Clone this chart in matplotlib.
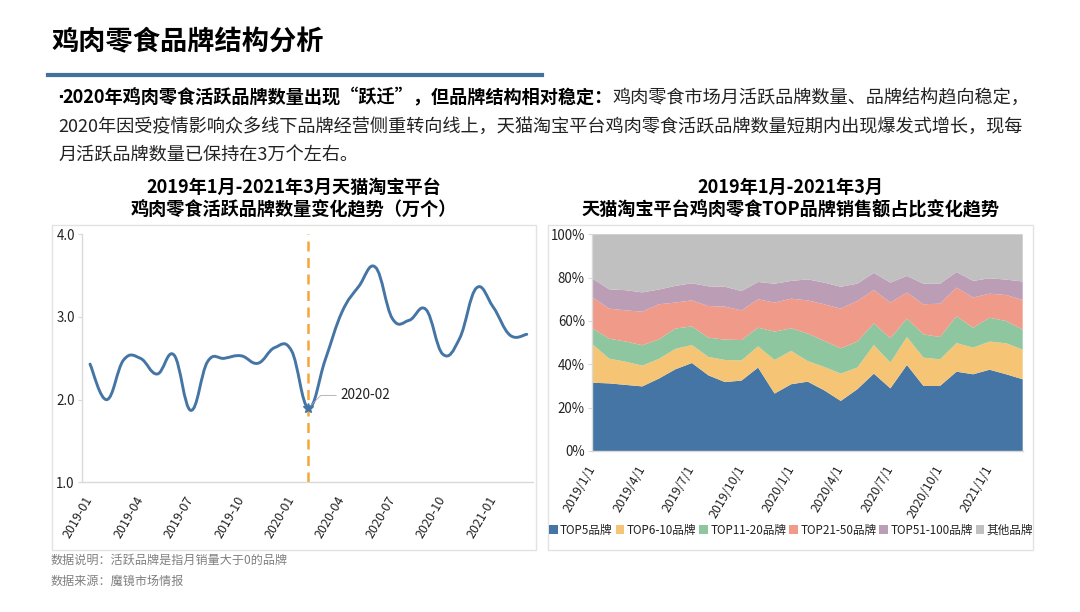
import numpy as np
import matplotlib
matplotlib.use("Agg")
import matplotlib.pyplot as plt
from matplotlib.path import Path
from matplotlib.patches import PathPatch, Rectangle, Patch
from matplotlib.lines import Line2D

plt.rcParams["font.family"] = ["Noto Sans CJK SC", "DejaVu Sans"]

# ---- DATA ----
# 月活跃品牌数量（万个），2019-01 ~ 2021-03
active_brands = [2.43, 2.00, 2.48, 2.50, 2.31, 2.54, 1.87, 2.46, 2.50, 2.53,
                 2.44, 2.63, 2.59, 1.90, 2.48, 3.06, 3.37, 3.60, 2.98, 2.96,
                 3.09, 2.55, 2.74, 3.35, 3.12, 2.78, 2.79]
left_ticks = ["2019-01", "2019-04", "2019-07", "2019-10", "2020-01",
              "2020-04", "2020-07", "2020-10", "2021-01"]
mark_label = "2020-02"
mark_idx = 13

# TOP 品牌销售额占比（%）
share_top5 = [31.5, 31.2, 30.5, 29.8, 33.4, 37.7, 40.6, 34.9, 31.8, 32.5, 38.5, 26.5, 30.8, 32.0,
              28.0, 23.1, 28.5, 35.7, 28.9, 39.7, 30.0, 30.0, 36.6, 35.4, 37.5, 35.4, 33.1]
share_top6_10 = [17.7, 11.4, 10.7, 9.6, 9.1, 9.4, 8.3, 8.5, 10.2, 9.3, 9.8, 15.5, 15.4, 9.5,
                 10.8, 12.6, 10.0, 13.2, 11.9, 12.9, 13.1, 12.3, 13.2, 12.3, 13.0, 14.3, 13.7]
share_top11_20 = [7.3, 9.2, 9.3, 9.4, 9.0, 9.4, 8.6, 8.9, 9.4, 9.4, 8.6, 13.1, 10.4, 12.7,
                  12.0, 11.7, 12.0, 10.0, 11.2, 8.5, 10.7, 10.3, 12.4, 9.2, 11.0, 10.3, 9.2]
share_top21_50 = [14.3, 13.9, 14.4, 15.5, 16.2, 12.0, 12.0, 14.6, 15.2, 13.7, 13.1, 13.4, 13.7, 15.3,
                  16.9, 18.3, 18.7, 15.4, 16.5, 12.0, 13.9, 15.4, 13.2, 13.9, 11.1, 12.0, 13.7]
share_top51_100 = [8.7, 8.9, 9.3, 8.9, 6.8, 7.7, 7.9, 9.1, 9.2, 8.9, 8.0, 8.7, 8.2, 9.7,
                   10.0, 10.1, 8.0, 7.9, 9.2, 7.7, 9.5, 9.2, 7.2, 7.7, 7.1, 7.1, 8.5]
share_other = [20.5, 25.4, 25.8, 26.8, 25.5, 23.8, 22.6, 24.0, 24.2, 26.2, 22.0, 22.8, 21.5, 20.8,
               22.3, 24.2, 22.8, 17.8, 22.3, 19.2, 22.8, 22.8, 17.4, 21.5, 20.3, 20.9, 21.8]
right_ticks = ["2019/1/1", "2019/4/1", "2019/7/1", "2019/10/1", "2020/1/1",
               "2020/4/1", "2020/7/1", "2020/10/1", "2021/1/1"]
share_names = ["TOP5品牌", "TOP6-10品牌", "TOP11-20品牌", "TOP21-50品牌", "TOP51-100品牌", "其他品牌"]
share_colors = ["#4475a5", "#f5c575", "#8ec6a0", "#f09a89", "#bb9db6", "#c0c0c0"]

LINE_BLUE = "#4475a5"
ORANGE = "#f5a63a"
GRID_GRAY = "#d9d9d9"
TXT = "#222222"
BODY_FS = 13.1


def smooth_path(x, y, t=0.2):
    """Catmull-Rom style bezier path through the points."""
    n = len(x)
    verts = [(x[0], y[0])]
    codes = [Path.MOVETO]
    for i in range(n - 1):
        a = i - 1 if i > 0 else i
        d = i + 2 if i + 2 < n else i + 1
        c1 = (x[i] + (x[i + 1] - x[a]) * t, y[i] + (y[i + 1] - y[a]) * t)
        c2 = (x[i + 1] - (x[d] - x[i]) * t, y[i + 1] - (y[d] - y[i]) * t)
        verts += [c1, c2, (x[i + 1], y[i + 1])]
        codes += [Path.CURVE4] * 3
    return Path(verts, codes)


def fx(px):
    return px / 1080.0


def fy(py):
    return 1 - py / 612.0


fig = plt.figure(figsize=(10.8, 6.12), dpi=100)
fig.patch.set_facecolor("white")

# ---- HEADER ----
fig.text(fx(51), fy(42), "鸡肉零食品牌结构分析", fontsize=19.6, fontweight="bold",
         color="black", va="center", ha="left")
fig.add_artist(Line2D([fx(48), fx(542)], [fy(75), fy(75)], color="#44709e", lw=3.0))

fig.text(fx(57), fy(98), "·", fontsize=BODY_FS, fontweight="bold", family="DejaVu Sans",
         color="black", va="center", ha="left")
t1 = fig.text(fx(62), fy(98), "2020年鸡肉零食活跃品牌数量出现“跃迁”，但品牌结构相对稳定：",
              fontsize=BODY_FS, fontweight="bold", color="black", va="center", ha="left")
fig.text(fx(58), fy(127),
         "2020年因受疫情影响众多线下品牌经营侧重转向线上，天猫淘宝平台鸡肉零食活跃品牌数量短期内出现爆发式增长，现每",
         fontsize=BODY_FS, color=TXT, va="center", ha="left")
fig.text(fx(58), fy(155), "月活跃品牌数量已保持在3万个左右。", fontsize=BODY_FS, color=TXT,
         va="center", ha="left")

# ---- PANEL BOXES ----
for x0, x1 in [(52, 536), (548, 1033)]:
    fig.add_artist(Rectangle((fx(x0), fy(550)), fx(x1 - x0), (550 - 225) / 612.0,
                             transform=fig.transFigure, fill=False, edgecolor="#e3e3e3", lw=1.0))

TITLE_FS = 13.1
fig.text(fx(294), fy(187), "2019年1月-2021年3月天猫淘宝平台", fontsize=TITLE_FS, fontweight="bold",
         ha="center", va="center")
fig.text(fx(294), fy(210), "鸡肉零食活跃品牌数量变化趋势（万个）", fontsize=TITLE_FS, fontweight="bold",
         ha="center", va="center")
fig.text(fx(790), fy(187), "2019年1月-2021年3月", fontsize=TITLE_FS, fontweight="bold",
         ha="center", va="center")
fig.text(fx(790), fy(210), "天猫淘宝平台鸡肉零食TOP品牌销售额占比变化趋势", fontsize=TITLE_FS,
         fontweight="bold", ha="center", va="center")

# ---- LEFT: line chart ----
ax1 = fig.add_axes([fx(81.7), fy(482.3), fx(533 - 81.7), (482.3 - 234.3) / 612.0])
xs = np.arange(len(active_brands))
ax1.add_patch(PathPatch(smooth_path(xs, active_brands), facecolor="none",
                        edgecolor=LINE_BLUE, lw=2.1, capstyle="round", joinstyle="round", zorder=3))
ax1.axvline(mark_idx, color=ORANGE, lw=1.8, ls=(0, (4, 2.6)), zorder=2)
ax1.plot(mark_idx, active_brands[mark_idx], marker="*", ms=7, color=LINE_BLUE, zorder=4)
ax1.annotate(mark_label, xy=(mark_idx, active_brands[mark_idx]), xytext=(23, 9),
             textcoords="offset points", fontsize=9.8, color=TXT, va="center", ha="left",
             arrowprops=dict(arrowstyle="-", color="#aaaaaa", lw=0.6, shrinkA=1, shrinkB=2,
                             relpos=(0, 0.5), connectionstyle="angle,angleA=0,angleB=45,rad=0"))
ax1.set_xlim(-0.494, 26.37)
ax1.set_ylim(1.0, 4.0)
ax1.set_yticks([1.0, 2.0, 3.0, 4.0])
ax1.set_yticklabels(["1.0", "2.0", "3.0", "4.0"])
ax1.set_xticks(xs[::3])
ax1.set_xticklabels(left_ticks, rotation=60, ha="right", va="center", rotation_mode="anchor")

# ---- RIGHT: stacked area ----
ax2 = fig.add_axes([fx(591.7), fy(451), fx(1022.7 - 591.7), (451 - 234.3) / 612.0])
xs2 = np.arange(len(share_top5))
ax2.stackplot(xs2, share_top5, share_top6_10, share_top11_20, share_top21_50,
              share_top51_100, share_other, colors=share_colors, lw=0)
ax2.set_xlim(-0.06, 26)
ax2.set_ylim(0, 100)
ax2.set_yticks([0, 20, 40, 60, 80, 100])
ax2.set_yticklabels([f"{v}%" for v in [0, 20, 40, 60, 80, 100]])
ax2.set_xticks(xs2[::3])
ax2.set_xticklabels(right_ticks, rotation=60, ha="right", va="center", rotation_mode="anchor")

for ax in (ax1, ax2):
    for s in ("top", "right"):
        ax.spines[s].set_visible(False)
    for s in ("left", "bottom"):
        ax.spines[s].set_color(GRID_GRAY)
        ax.spines[s].set_linewidth(1.0)
    ax.tick_params(axis="y", length=3, width=0.8, color=GRID_GRAY, labelsize=9.6,
                   labelcolor=TXT, pad=2)
    ax.tick_params(axis="x", length=0, labelsize=9, labelcolor=TXT, pad=11)
    ax.set_facecolor("white")

handles = [Patch(facecolor=c, edgecolor="none") for c in share_colors]
fig.legend(handles, share_names, loc="center", bbox_to_anchor=(fx(791), fy(530)), ncol=6,
           frameon=False, fontsize=8.4, handlelength=0.75, handleheight=0.75,
           handletextpad=0.2, columnspacing=0.25, borderpad=0, labelcolor=TXT)

# ---- FOOTER ----
fig.text(fx(51), fy(560), "数据说明：活跃品牌是指月销量大于0的品牌", fontsize=8.7, color="#808080",
         ha="left", va="center")
fig.text(fx(51), fy(581), "数据来源：魔镜市场情报", fontsize=8.7, color="#808080",
         ha="left", va="center")

# second half of first paragraph line, placed right after the bold lead-in
fig.canvas.draw()
bb = t1.get_window_extent()
fig.text(bb.x1 / fig.bbox.width, fy(98), "鸡肉零食市场月活跃品牌数量、品牌结构趋向稳定，",
         fontsize=BODY_FS, color=TXT, va="center", ha="left")

fig.savefig("out.png", dpi=100)
